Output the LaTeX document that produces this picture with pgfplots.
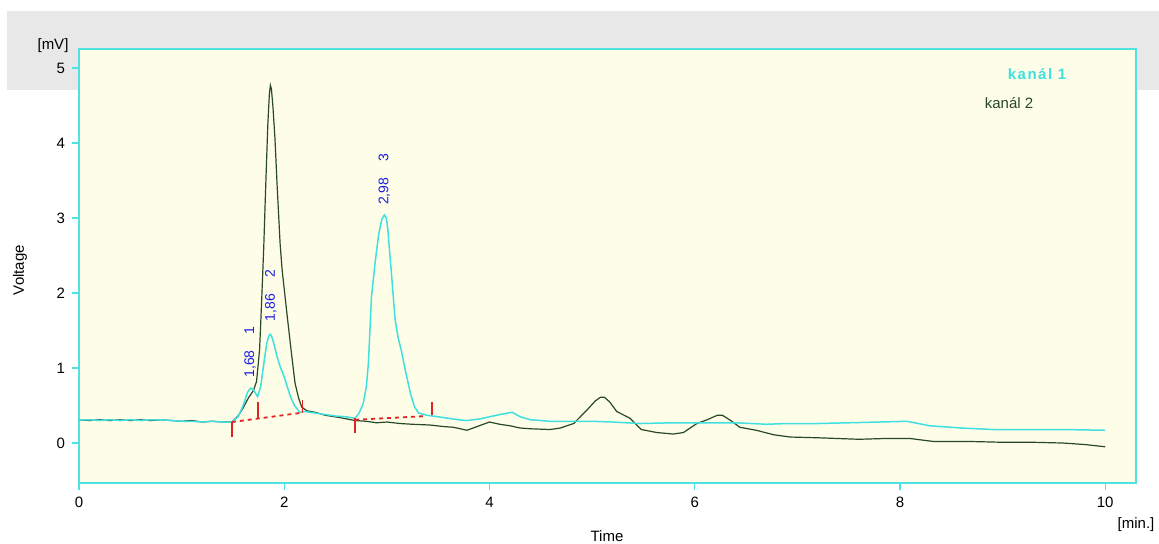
\documentclass[border=0pt]{standalone}
\usepackage{fontspec}
\setmainfont{Liberation Sans}
\usepackage{pgfplots}
\pgfplotsset{compat=1.18}
\definecolor{cyanline}{RGB}{64,224,224}
\definecolor{cyanax}{RGB}{80,225,225}
\definecolor{greenline}{RGB}{40,72,40}
\definecolor{bgyellow}{RGB}{253,253,232}
\definecolor{bandgray}{RGB}{232,232,232}
\definecolor{peakblue}{RGB}{30,30,225}
\definecolor{intred}{RGB}{225,35,35}

\pgfplotstableread{
x y
0.00 0.31
0.10 0.31
0.20 0.30
0.30 0.31
0.40 0.30
0.50 0.31
0.60 0.30
0.70 0.31
0.80 0.31
0.90 0.30
1.00 0.29
1.10 0.29
1.20 0.28
1.30 0.29
1.40 0.28
1.49 0.28
1.55 0.35
1.60 0.50
1.64 0.67
1.67 0.73
1.70 0.71
1.74 0.62
1.77 0.75
1.80 1.05
1.83 1.33
1.85 1.43
1.865 1.45
1.88 1.41
1.90 1.32
1.93 1.15
1.96 1.02
2.00 0.88
2.06 0.62
2.10 0.50
2.15 0.41
2.20 0.42
2.30 0.40
2.40 0.38
2.50 0.36
2.60 0.35
2.69 0.33
2.73 0.40
2.77 0.53
2.80 0.75
2.82 1.06
2.85 1.95
2.885 2.40
2.92 2.78
2.95 2.98
2.976 3.04
2.995 3.00
3.01 2.84
3.03 2.50
3.05 2.17
3.08 1.65
3.11 1.40
3.14 1.24
3.18 0.97
3.23 0.66
3.27 0.48
3.31 0.40
3.39 0.37
3.50 0.35
3.60 0.33
3.70 0.31
3.78 0.30
3.90 0.32
4.00 0.35
4.10 0.38
4.22 0.41
4.30 0.35
4.40 0.31
4.50 0.30
4.59 0.29
4.80 0.29
5.00 0.29
5.20 0.28
5.47 0.26
5.80 0.27
6.10 0.27
6.40 0.27
6.70 0.25
6.90 0.26
7.20 0.26
7.50 0.27
7.80 0.28
8.07 0.29
8.29 0.23
8.60 0.20
8.91 0.18
9.30 0.18
9.60 0.18
10.00 0.17
}\kanalA

\pgfplotstableread{
x y
0.00 0.31
0.10 0.30
0.20 0.31
0.30 0.30
0.40 0.31
0.50 0.30
0.60 0.31
0.70 0.30
0.80 0.31
0.90 0.30
1.00 0.29
1.10 0.30
1.20 0.28
1.30 0.29
1.40 0.28
1.49 0.28
1.55 0.36
1.60 0.47
1.65 0.60
1.70 0.70
1.73 0.82
1.76 1.25
1.78 1.90
1.80 2.60
1.82 3.45
1.84 4.25
1.855 4.65
1.865 4.77
1.875 4.72
1.89 4.48
1.91 4.05
1.93 3.45
1.96 2.65
1.98 2.30
2.00 2.05
2.03 1.68
2.07 1.20
2.105 0.80
2.14 0.60
2.17 0.48
2.22 0.43
2.30 0.41
2.40 0.37
2.54 0.34
2.69 0.30
2.80 0.29
2.90 0.27
3.00 0.28
3.13 0.26
3.25 0.25
3.42 0.24
3.55 0.22
3.65 0.21
3.78 0.17
3.90 0.23
4.00 0.28
4.10 0.25
4.20 0.23
4.30 0.20
4.40 0.19
4.59 0.18
4.69 0.20
4.82 0.26
4.95 0.44
5.03 0.56
5.08 0.61
5.12 0.61
5.17 0.55
5.24 0.42
5.37 0.33
5.48 0.18
5.63 0.14
5.79 0.12
5.89 0.14
6.02 0.26
6.12 0.31
6.22 0.37
6.27 0.37
6.35 0.30
6.44 0.21
6.60 0.17
6.77 0.11
6.93 0.08
7.20 0.07
7.60 0.05
7.85 0.06
8.10 0.06
8.33 0.02
8.70 0.02
9.00 0.01
9.30 0.01
9.59 0.00
9.80 -0.02
10.00 -0.05
}\kanalB

\begin{document}
\begin{tikzpicture}[font=\fontsize{7.5}{9}\selectfont]
\useasboundingbox (-39.5pt,-30pt) rectangle (540pt,241.5pt);
\fill[white] (-39.5pt,-30pt) rectangle (540pt,241.5pt);
\fill[bandgray] (-36pt,196.5pt) rectangle (540pt,236pt);
\begin{axis}[
  at={(0pt,0pt)}, anchor=south west,
  scale only axis, width=528.5pt, height=217pt,
  xmin=0, xmax=10.30, ymin=-0.533, ymax=5.253,
  xtick={0,2,4,6,8,10}, ytick={0,1,2,3,4,5},
  axis background/.style={fill=bgyellow},
  axis line style={draw=cyanax, line width=0.8pt},
  tick style={draw=cyanax, line width=0.6pt},
  major tick length=3.5pt, tick align=outside,
  xtick pos=bottom, ytick pos=left,
  ticklabel style={font=\fontsize{7.5}{9}\selectfont, text=black},
  /pgf/number format/assume math mode=true,
  clip=false,
]
\addplot[greenline, line width=0.6pt] table[x=x,y=y] {\kanalB};
\addplot[cyanline, line width=0.75pt] table[x=x,y=y] {\kanalA};

\addplot[intred, line width=0.6pt] coordinates {(1.49,0.28) (1.49,0.08)};
\addplot[intred, line width=0.6pt] coordinates {(1.745,0.55) (1.745,0.33)};
\addplot[intred, line width=0.6pt] coordinates {(2.18,0.57) (2.18,0.40)};
\addplot[intred, line width=0.9pt, dash pattern=on 2pt off 2pt] coordinates {(1.49,0.28) (2.15,0.40)};
\addplot[intred, line width=0.6pt] coordinates {(2.69,0.33) (2.69,0.13)};
\addplot[intred, line width=0.6pt] coordinates {(3.44,0.55) (3.44,0.37)};
\addplot[intred, line width=0.9pt, dash pattern=on 2pt off 2pt] coordinates {(2.69,0.31) (3.39,0.36)};

\node[rotate=90, anchor=west, inner sep=0pt, text=peakblue, font=\fontsize{7}{8}\selectfont] at (axis cs:1.667,0.867) {1,68\hspace{8pt}1};
\node[rotate=90, anchor=west, inner sep=0pt, text=peakblue, font=\fontsize{7}{8}\selectfont] at (axis cs:1.87,1.62) {1,86\hspace{8pt}2};
\node[rotate=90, anchor=west, inner sep=0pt, text=peakblue, font=\fontsize{7}{8}\selectfont] at (axis cs:2.976,3.17) {2,98\hspace{8pt}3};
\end{axis}
\node at (-13pt,218.5pt) {[mV]};
\node[rotate=90] at (-29.5pt,106.5pt) {Voltage};
\node at (264pt,-26.5pt) {Time};
\node at (528.5pt,-21pt) {[min.]};
\node[text=cyanline, font=\fontsize{7.5}{9}\selectfont\bfseries] at (479pt,204.5pt) {\addfontfeature{LetterSpace=10}kanál 1};
\node[text=greenline] at (465pt,190pt) {kanál 2};
\end{tikzpicture}
\end{document}
